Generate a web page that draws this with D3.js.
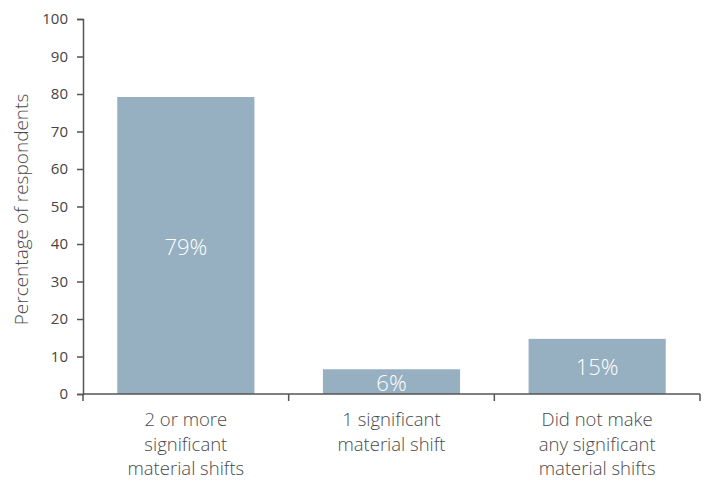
<!DOCTYPE html>
<html><head><meta charset="utf-8">
<script src="https://cdn.jsdelivr.net/npm/d3@7"></script>
<style>body{margin:0;background:#fff}svg{display:block}</style>
</head><body>
<svg id="c" width="710" height="481"></svg>
<script>
const categories = [["2 or more","significant","material shifts"],["1 significant","material shift"],["Did not make","any significant","material shifts"]];
const values = [79.2, 6.6, 14.7];
const valueLabels = ["79%","6%","15%"];
const yTicks = [0,10,20,30,40,50,60,70,80,90,100];
const yTitle = "Percentage of respondents";

const svg = d3.select("#c");
const font = "'Open Sans', sans-serif";
const fw = 300;
const m = {left:83, right:10, top:19, bottom:87};
const W = 710, H = 481;
const x = d3.scaleBand().domain(d3.range(categories.length)).range([m.left, W - m.right]).paddingInner(0.333).paddingOuter(0.1665);
const y = d3.scaleLinear().domain([0,100]).range([H - m.bottom, m.top]);

svg.selectAll("rect.bar").data(values).join("rect")
  .attr("x",(d,i)=>x(i)).attr("width",x.bandwidth())
  .attr("y",d=>y(d)).attr("height",d=>y(0)-y(d)).attr("fill","#96b0c1");

svg.selectAll("text.vl").data(values).join("text")
  .attr("x",(d,i)=>x(i)+x.bandwidth()/2).attr("y",d=>(y(d)+y(0))/2)
  .attr("text-anchor","middle").attr("dominant-baseline","central")
  .attr("fill","#fff").style("font-family",font).style("font-weight",fw).style("font-size","22px")
  .text((d,i)=>valueLabels[i]);

const yAxis = svg.append("g").attr("transform",`translate(${m.left},0)`)
  .call(d3.axisLeft(y).tickValues(yTicks).tickSize(6).tickPadding(9));
yAxis.select(".domain").attr("stroke","#555").attr("stroke-width",1.5);
yAxis.selectAll(".tick line").attr("stroke","#555").attr("stroke-width",1.5);
yAxis.selectAll("text").attr("fill","#444").style("font-family",font).style("font-weight",400).style("font-size","15px");

// x axis line with boundary ticks
const step = x.step();
const bounds = d3.range(categories.length+1).map(i=> i===0 ? m.left : x(i-1)+x.bandwidth()+ (step - x.bandwidth())/2);
const xg = svg.append("g");
xg.append("line").attr("x1",m.left).attr("x2",bounds[bounds.length-1]).attr("y1",y(0)).attr("y2",y(0)).attr("stroke","#555").attr("stroke-width",1.5);
xg.selectAll("line.t").data(bounds).join("line").attr("class","t")
  .attr("x1",d=>d).attr("x2",d=>d).attr("y1",y(0)).attr("y2",y(0)+7).attr("stroke","#555").attr("stroke-width",1.5);

const xl = svg.selectAll("text.xl").data(categories).join("text")
  .attr("text-anchor","middle").attr("fill","#4a4a4a").style("font-family",font).style("font-weight",fw).style("font-size","18.5px");
xl.each(function(d,i){
  const t = d3.select(this);
  d.forEach((line,j)=>{
    t.append("tspan").attr("x",x(i)+x.bandwidth()/2).attr("y",y(0)+32+j*24.5).text(line);
  });
});

svg.append("text").attr("transform",`translate(28,${(y(0)+y(100))/2 + 3}) rotate(-90)`)
  .attr("text-anchor","middle").attr("fill","#4a4a4a").style("font-family",font).style("font-weight",fw).style("font-size","19px")
  .text(yTitle);
</script>
</body></html>
